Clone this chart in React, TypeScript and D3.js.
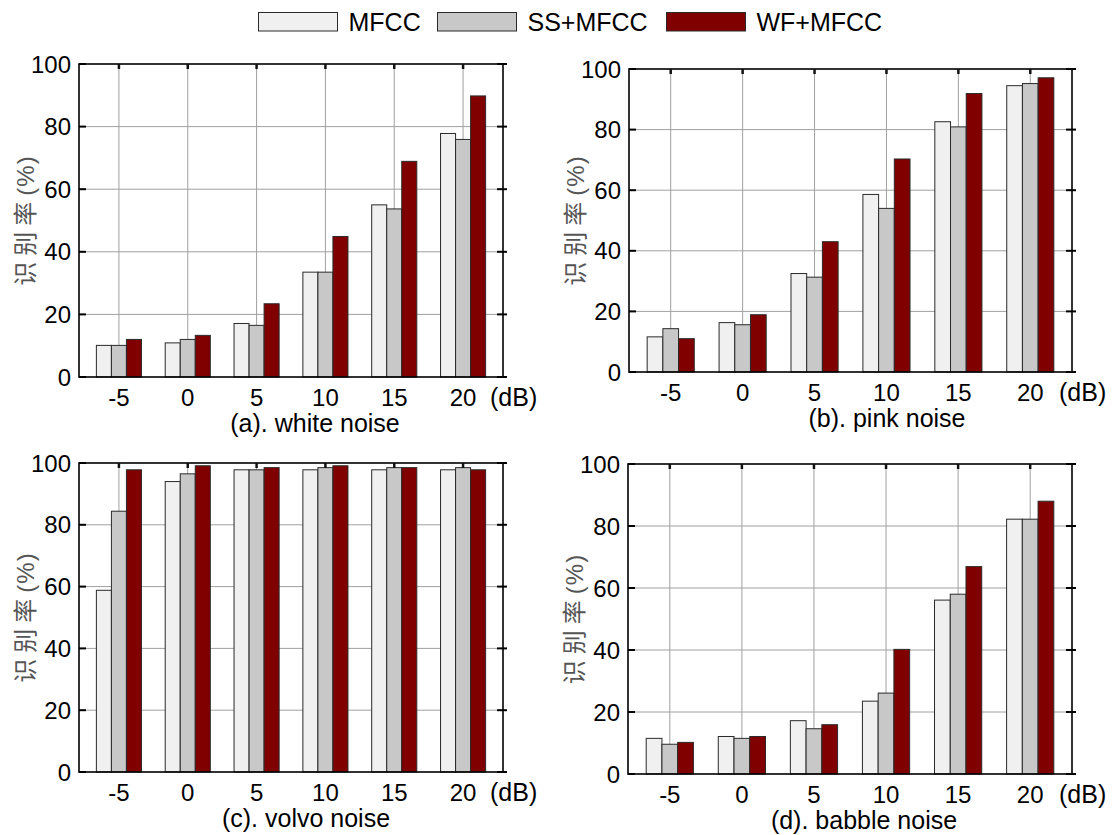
import * as d3 from "d3";

// SNR levels on the x axis
const categories = ["-5", "0", "5", "10", "15", "20"];
const seriesNames = ["MFCC", "SS+MFCC", "WF+MFCC"];
const seriesColors = ["#f0f0f0", "#c8c8c8", "#800000"];
const yTicks = [0, 20, 40, 60, 80, 100];

// recognition rate (%)
const whiteMFCC = [10.1, 10.9, 17.1, 33.5, 55.0, 77.8];
const whiteSS = [10.1, 12.0, 16.5, 33.5, 53.7, 75.9];
const whiteWF = [12.0, 13.3, 23.4, 44.9, 68.9, 89.8];

const pinkMFCC = [11.6, 16.3, 32.5, 58.6, 82.6, 94.5];
const pinkSS = [14.3, 15.6, 31.3, 54.0, 80.9, 95.2];
const pinkWF = [11.0, 18.9, 43.0, 70.3, 91.9, 97.1];

const volvoMFCC = [58.8, 94.0, 97.8, 97.8, 97.8, 97.8];
const volvoSS = [84.4, 96.5, 97.8, 98.5, 98.5, 98.5];
const volvoWF = [97.8, 99.1, 98.5, 99.1, 98.5, 97.8];

const babbleMFCC = [11.5, 12.1, 17.2, 23.5, 56.1, 82.2];
const babbleSS = [9.6, 11.5, 14.6, 26.1, 58.0, 82.2];
const babbleWF = [10.2, 12.1, 15.9, 40.2, 66.9, 88.0];

const captions = ["(a). white noise", "(b). pink noise", "(c). volvo noise", "(d). babble noise"];

// layout of the four subplots
const panels = [
  { values: [whiteMFCC, whiteSS, whiteWF], left: 79, right: 503, top: 64, bottom: 377, capX: 315 },
  { values: [pinkMFCC, pinkSS, pinkWF], left: 629, right: 1072, top: 69, bottom: 372, capX: 887 },
  { values: [volvoMFCC, volvoSS, volvoWF], left: 79, right: 503, top: 463, bottom: 772, capX: 306 },
  { values: [babbleMFCC, babbleSS, babbleWF], left: 628, right: 1072, top: 464, bottom: 774, capX: 864 },
];

const font = "'Liberation Sans', Arial, sans-serif";

function Panel({ p, caption }: any) {
  const x = d3.scalePoint<string>().domain(categories).range([p.left, p.right]).padding(0.58);
  const y = d3.scaleLinear().domain([0, 100]).range([p.bottom, p.top]);
  const groupW = x.step() * 0.655;
  const sub = d3.scaleBand<string>().domain(seriesNames).range([-groupW / 2, groupW / 2]);

  return (
    <g>
      {/* grid */}
      {yTicks.slice(1, -1).map((t) => (
        <line key={"gy" + t} x1={p.left} x2={p.right} y1={y(t)} y2={y(t)} stroke="#a0a0a0" strokeWidth={1} />
      ))}
      {categories.map((c) => (
        <line key={"gx" + c} x1={x(c)} x2={x(c)} y1={p.top} y2={p.bottom} stroke="#a0a0a0" strokeWidth={1} />
      ))}

      {/* bars */}
      {seriesNames.map((s, si) =>
        categories.map((c, ci) => {
          const v = p.values[si][ci];
          return (
            <rect
              key={s + c}
              x={(x(c) as number) + (sub(s) as number)}
              y={y(v)}
              width={sub.bandwidth()}
              height={y(0) - y(v)}
              fill={seriesColors[si]}
              stroke="#2a2a2a"
              strokeWidth={1}
            />
          );
        })
      )}

      {/* axes box */}
      <rect x={p.left} y={p.top} width={p.right - p.left} height={p.bottom - p.top} fill="none" stroke="#000" strokeWidth={1.6} />
      <line x1={p.right} x2={p.right + 4} y1={p.top} y2={p.top} stroke="#000" strokeWidth={1.6} />
      <line x1={p.right} x2={p.right + 4} y1={p.bottom} y2={p.bottom} stroke="#000" strokeWidth={1.6} />

      {/* y ticks */}
      {yTicks.map((t) => (
        <g key={"yt" + t}>
          <line x1={p.left} x2={p.left + 7} y1={y(t)} y2={y(t)} stroke="#000" strokeWidth={2} />
          <line x1={p.right - 6} x2={p.right + 4} y1={y(t)} y2={y(t)} stroke="#000" strokeWidth={2} />
          <text x={p.left - 8} y={y(t)} dy="0.36em" textAnchor="end" fontSize={24} fontFamily={font} fill="#000">
            {t}
          </text>
        </g>
      ))}

      {/* small marks on top at each category */}
      {categories.map((c) => (
        <line key={"tm" + c} x1={x(c)} x2={x(c)} y1={p.top} y2={p.top + 5} stroke="#111" strokeWidth={2.5} />
      ))}

      {/* x tick labels */}
      {categories.map((c) => (
        <text key={"xl" + c} x={x(c)} y={p.bottom + 29} textAnchor="middle" fontSize={24} fontFamily={font} fill="#000">
          {c}
        </text>
      ))}
      <text x={p.right - 13} y={p.bottom + 29} fontSize={25} fontFamily={font} fill="#000">
        (dB)
      </text>

      {/* caption */}
      <text x={p.capX} y={p.bottom + 55} textAnchor="middle" fontSize={25} fontFamily={font} fill="#000">
        {caption}
      </text>

      {/* y label */}
      <text
        transform={`translate(${p.left - 53},${(p.top + p.bottom) / 2}) rotate(-90)`}
        textAnchor="middle"
        dy="0.35em"
        fontSize={24}
        fill="#555"
      >
        <tspan fontFamily="'Noto Sans CJK SC', sans-serif" letterSpacing={6}>识别率</tspan>
        <tspan fontFamily={font} letterSpacing={1}>(%)</tspan>
      </text>
    </g>
  );
}

// legend placement
const legendBoxes = [258.5, 437.5, 666.5];

export default function App() {
  return (
    <svg
      width={1112}
      height={835}
      style={{ position: "absolute", left: 0, top: 0, background: "#fff" }}
    >
      <rect width={1112} height={835} fill="#fff" />
      {panels.map((p, i) => (
        <Panel key={i} p={p} caption={captions[i]} />
      ))}
      {seriesNames.map((s, i) => (
        <g key={s}>
          <rect x={legendBoxes[i]} y={12.5} width={79} height={18.5} fill={seriesColors[i]} stroke="#2a2a2a" strokeWidth={1} />
          <text x={legendBoxes[i] + 90} y={31} fontSize={25} fontFamily={font} fill="#000">
            {s}
          </text>
        </g>
      ))}
    </svg>
  );
}
